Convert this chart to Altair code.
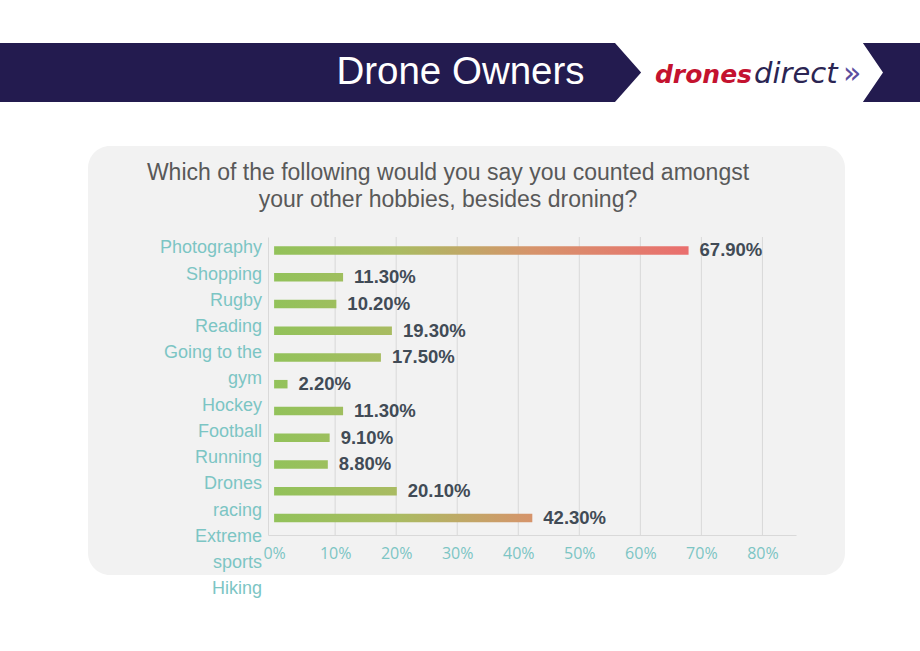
import altair as alt

# ---------------- data ----------------
categories = ["Photography", "Shopping", "Rugby", "Reading", "Going to the gym",
              "Hockey", "Football", "Running", "Drones racing", "Extreme sports", "Hiking"]
values = [0.679, 0.113, 0.102, 0.193, 0.175, 0.022, 0.113, 0.091, 0.088, 0.201, 0.423]
label_lines = ["Photography", "Shopping", "Rugby", "Reading", "Going to the", "gym",
               "Hockey", "Football", "Running", "Drones", "racing", "Extreme", "sports", "Hiking"]
x_ticks = [0, 0.1, 0.2, 0.3, 0.4, 0.5, 0.6, 0.7, 0.8]
title_lines = ["Which of the following would you say you counted amongst",
               "your other hobbies, besides droning?"]
header = "Drone Owners"

# ---------------- style ----------------
NAVY = "#231b4f"
TEAL = "#7cc5c4"
GRID = "#d9d9d9"
PANEL = "#f2f2f2"
GRAD_END = 0.68
STOPS = [{"offset": 0.0, "color": "#92c25a"},
         {"offset": 0.3, "color": "#aabb62"},
         {"offset": 0.62, "color": "#d6946b"},
         {"offset": 1.0, "color": "#ea6e6e"}]

W, H = 528, 298
OX, OY = 268, 237  # plot origin on the page

rows = [{"cat": c, "val": v,
         "grad": {"gradient": "linear", "x1": 0, "y1": 0, "x2": GRAD_END / v, "y2": 0,
                  "stops": STOPS}}
        for c, v in zip(categories, values)]
line_rows = [{"i": i, "t": t} for i, t in enumerate(label_lines)]
grid_rows = [{"v": t} for t in x_ticks if t > 0]

one = alt.Data(values=[{}])

# ---------------- decorations ----------------
banner = alt.Chart(one).mark_rect(color=NAVY).encode(
    x=alt.value(-OX), x2=alt.value(920 - OX), y=alt.value(43 - OY), y2=alt.value(102 - OY))

arrow = alt.Chart(one).mark_point(
    shape="M -1 -0.221 L 0.85 -0.221 L 1 0 L 0.85 0.221 L -1 0.221 L -0.805 0 Z",
    size=(2 * 134) ** 2, filled=True, color="white", opacity=1, strokeWidth=0
).encode(x=alt.value(749 - OX), y=alt.value(72.5 - OY))

head_txt = alt.Chart(one).mark_text(
    text=header, font="Liberation Sans", fontSize=38.5, color="white",
    align="center", baseline="middle"
).encode(x=alt.value(460.5 - OX), y=alt.value(72 - OY))

logo1 = alt.Chart(one).mark_text(
    text="drones", font="DejaVu Sans", fontSize=25, fontWeight="bold", fontStyle="italic",
    color="#c4122f", align="right", baseline="alphabetic"
).encode(x=alt.value(752 - OX), y=alt.value(83 - OY))
logo2 = alt.Chart(one).mark_text(
    text="direct", font="DejaVu Sans", fontSize=29, fontStyle="italic",
    color="#2b2553", align="left", baseline="alphabetic"
).encode(x=alt.value(754 - OX), y=alt.value(83 - OY))
logo3 = alt.Chart(one).mark_text(
    text="»", font="DejaVu Sans", fontSize=30,
    color="#5b4e9e", align="left", baseline="alphabetic"
).encode(x=alt.value(843 - OX), y=alt.value(83 - OY))

panel = alt.Chart(one).mark_rect(color=PANEL, cornerRadius=22).encode(
    x=alt.value(88 - OX), x2=alt.value(845 - OX), y=alt.value(146 - OY), y2=alt.value(575 - OY))

title = alt.Chart(one).mark_text(
    text=title_lines, font="Liberation Sans", fontSize=23, color="#595959",
    align="center", baseline="middle", lineHeight=27
).encode(x=alt.value(448 - OX), y=alt.value(173 - OY))

# ---------------- chart ----------------
yscale = alt.Scale(type="band", paddingInner=0, paddingOuter=0.068, align=0)
xscale = alt.Scale(domain=[-0.01, 0.855], nice=False)
xaxis = alt.Axis(values=x_ticks, format=".0%", ticks=False, domainColor=GRID,
                 grid=False, zindex=1, title=None,
                 labelFont="Open Sans", labelFontSize=16, labelColor=TEAL,
                 labelPadding=10)

gridlines = alt.Chart(alt.Data(values=grid_rows)).mark_rule(color=GRID, strokeWidth=1).encode(
    x=alt.X("v:Q", scale=xscale, axis=xaxis), y=alt.value(0), y2=alt.value(H))

base = alt.Chart(alt.Data(values=rows))

bars = base.mark_bar(size=8.5).encode(
    y=alt.Y("cat:N", sort=categories, scale=yscale, title=None,
            axis=alt.Axis(labels=False, ticks=False, grid=False, domainColor=GRID,
                          domainWidth=1, zindex=1)),
    x=alt.X("val:Q", scale=xscale, axis=xaxis),
    color=alt.Color("grad:N", scale=None),
)

vals = base.mark_text(
    align="left", baseline="middle", dx=11, font="Liberation Sans", fontSize=18.5,
    fontWeight="bold", color="#414b56"
).encode(
    y=alt.Y("cat:N", sort=categories, scale=yscale, axis=None),
    x=alt.X("val:Q", scale=xscale, axis=xaxis),
    text=alt.Text("val:Q", format=".2%"),
)

ylabels = alt.Chart(alt.Data(values=line_rows)).mark_text(
    align="right", baseline="middle", font="Liberation Sans", fontSize=18, color=TEAL
).encode(
    y=alt.Y("i:O", scale=alt.Scale(type="point", range=[248.3 - OY, 589.3 - OY], padding=0), axis=None),
    x=alt.value(-6),
    text="t:N",
)

chart = alt.layer(
    banner, arrow, head_txt, logo1, logo2, logo3, panel, title, gridlines, bars, vals, ylabels
).resolve_scale(y="independent").properties(
    width=W, height=H,
    autosize=alt.AutoSizeParams(type="none"),
    padding={"left": OX, "top": OY, "right": 920 - OX - W, "bottom": 651 - OY - H},
).configure_view(stroke=None).configure(background="white")

chart.save("out.html", embed_options={"renderer": "svg", "actions": False})
